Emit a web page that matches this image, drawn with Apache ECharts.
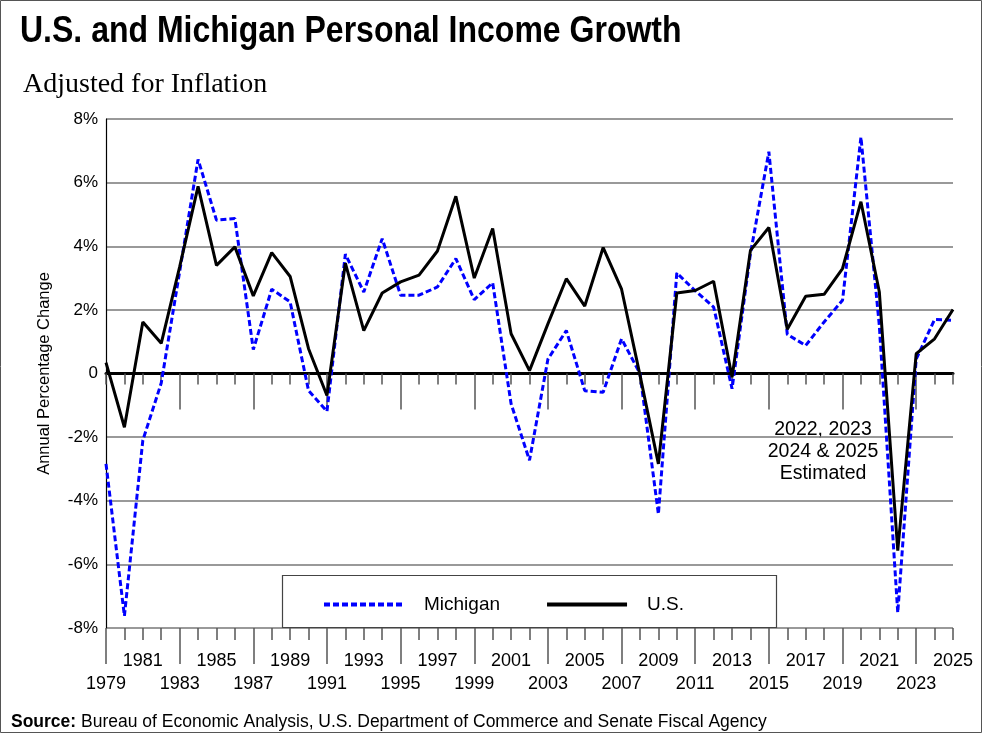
<!DOCTYPE html>
<html>
<head>
<meta charset="utf-8">
<title>U.S. and Michigan Personal Income Growth</title>
<script src="https://cdn.jsdelivr.net/npm/echarts@6/dist/echarts.min.js"></script>
<style>
  html, body { margin: 0; padding: 0; background: #ffffff; }
  #main { width: 983px; height: 734px; }
</style>
</head>
<body>
<div id="main"></div>
<script>
// years on the x axis
const years = [
  "1979", "1980", "1981", "1982", "1983", "1984", "1985", "1986", "1987", "1988",
  "1989", "1990", "1991", "1992", "1993", "1994", "1995", "1996", "1997", "1998",
  "1999", "2000", "2001", "2002", "2003", "2004", "2005", "2006", "2007", "2008",
  "2009", "2010", "2011", "2012", "2013", "2014", "2015", "2016", "2017", "2018",
  "2019", "2020", "2021", "2022", "2023", "2024", "2025"
];

// annual % change, real personal income
const michigan = [
  -2.84, -7.62, -2.1, -0.3, 3.2, 6.73, 4.82, 4.87, 0.75, 2.65,
  2.25, -0.54, -1.19, 3.75, 2.56, 4.24, 2.46, 2.46, 2.72, 3.61,
  2.32, 2.85, -0.95, -2.73, 0.45, 1.35, -0.54, -0.59, 1.09, 0.0,
  -4.42, 3.16, 2.6, 2.09, -0.48, 3.77, 6.97, 1.23, 0.88, 1.62,
  2.3, 7.43, 1.5, -7.52, 0.45, 1.7, 1.67
];
const us = [
  0.34, -1.69, 1.62, 0.95, 3.35, 5.88, 3.4, 3.98, 2.44, 3.8,
  3.05, 0.78, -0.69, 3.47, 1.35, 2.53, 2.88, 3.09, 3.85, 5.57,
  3.0, 4.56, 1.25, 0.09, 1.56, 2.98, 2.12, 3.96, 2.65, -0.05,
  -2.84, 2.53, 2.61, 2.9, -0.12, 3.87, 4.59, 1.39, 2.43, 2.49,
  3.3, 5.4, 2.56, -5.57, 0.62, 1.09, 2.01
];

const yTicks = [-8, -6, -4, -2, 0, 2, 4, 6, 8];
const noteLines = ["2022, 2023", "2024 & 2025", "Estimated"];

const sans = "'Liberation Sans', Arial, sans-serif";

const chart = echarts.init(document.getElementById("main"));

// category x axes: two sit on the zero line, two hang from the bottom
function xAxisBase(extra) {
  return Object.assign({
    type: "category",
    data: years,
    boundaryGap: false,
    position: "bottom",
    axisLine: { show: false },
    axisTick: { show: false },
    axisLabel: { show: false },
    splitLine: { show: false }
  }, extra);
}

const tickStyle = { color: "#555", width: 1.5 };

chart.setOption({
  animation: false,
  backgroundColor: "#ffffff",
  title: [
    {
      text: "Adjusted for Inflation",
      left: 18,
      top: 66,
      textStyle: { fontFamily: "'Liberation Serif', 'DejaVu Serif', serif", fontWeight: "normal", fontSize: 28, color: "#000" }
    },
    {
      text: "{b|Source:} Bureau of Economic Analysis, U.S. Department of Commerce and Senate Fiscal Agency",
      left: 6,
      top: 708,
      textStyle: {
        fontFamily: sans, fontWeight: "normal", fontSize: 17.5, color: "#000",
        rich: { b: { fontFamily: sans, fontWeight: "bold", fontSize: 17.5, color: "#000" } }
      }
    }
  ],
  grid: { left: 106, right: 30, top: 119, bottom: 106 },
  legend: {
    data: ["Michigan", "U.S."],
    left: 317,
    top: 590,
    z: 10,
    itemWidth: 80,
    itemHeight: 14,
    itemGap: 45,
    itemStyle: { opacity: 0 },
    lineStyle: { width: 4 },
    textStyle: { fontFamily: sans, fontSize: 19, color: "#000", padding: [0, 0, 0, 15] }
  },
  xAxis: [
    // zero line with yearly ticks
    xAxisBase({
      axisLine: { show: true, onZero: true, onZeroAxisIndex: 0, lineStyle: { color: "#000", width: 3 } },
      axisTick: { show: true, interval: 0, length: 11, lineStyle: tickStyle }
    }),
    // long ticks on the zero line every 4 years
    xAxisBase({
      axisLine: { show: false, onZero: true, onZeroAxisIndex: 0 },
      axisTick: { show: true, length: 36, interval: function (i) { return i % 4 === 0 && i > 0; }, lineStyle: tickStyle }
    }),
    // bottom: yearly ticks + upper row of labels
    xAxisBase({
      axisLine: { show: false, onZero: false },
      axisTick: { show: true, interval: 0, length: 12, lineStyle: tickStyle },
      axisLabel: {
        show: true, margin: 24, fontFamily: sans, fontSize: 18, color: "#000",
        interval: function (i) { return i % 4 === 2; }
      }
    }),
    // bottom: long ticks + lower row of labels
    xAxisBase({
      axisLine: { show: false, onZero: false },
      axisTick: { show: true, length: 36, interval: function (i) { return i % 4 === 0; }, lineStyle: tickStyle },
      axisLabel: {
        show: true, margin: 47, fontFamily: sans, fontSize: 18, color: "#000",
        interval: function (i) { return i % 4 === 0; }
      }
    })
  ],
  yAxis: {
    type: "value",
    min: yTicks[0],
    max: yTicks[yTicks.length - 1],
    interval: 2,
    name: "Annual Percentage Change",
    nameLocation: "middle",
    nameRotate: 90,
    nameGap: 53,
    nameTextStyle: { fontFamily: sans, fontSize: 16.5, color: "#000" },
    axisLine: { show: true, lineStyle: { color: "#000", width: 1.2 } },
    axisTick: { show: false },
    axisLabel: {
      margin: 8, fontFamily: sans, fontSize: 17, color: "#000",
      formatter: function (v) { return v === 0 ? "0" : v + "%"; }
    },
    splitLine: { show: true, lineStyle: { color: "#777", width: 1.5 } }
  },
  series: [
    {
      name: "Michigan",
      type: "line",
      data: michigan,
      symbol: "none",
      color: "#0000ff",
      lineStyle: { color: "#0000ff", width: 3, type: [6, 3] },
      z: 3
    },
    {
      name: "U.S.",
      type: "line",
      data: us,
      symbol: "none",
      color: "#000000",
      lineStyle: { color: "#000000", width: 3 },
      z: 4
    }
  ],
  graphic: [
    // outer frame
    {
      type: "rect",
      shape: { x: 0.5, y: 0.5, width: 981, height: 732 },
      style: { fill: null, stroke: "#555", lineWidth: 1 },
      silent: true
    },
    // main title, squeezed to look like a condensed face
    {
      type: "text",
      x: 20,
      y: 13,
      scaleX: 0.865,
      style: {
        text: "U.S. and Michigan Personal Income Growth",
        fontFamily: sans,
        fontWeight: "bold",
        fontSize: 37,
        fill: "#000",
        verticalAlign: "top"
      },
      silent: true
    },
    // legend box
    {
      type: "rect",
      shape: { x: 282.5, y: 575.5, width: 494, height: 52 },
      style: { fill: "#ffffff", stroke: "#444", lineWidth: 1.2 },
      z: 5,
      silent: true
    },
    {
      type: "text",
      x: 823,
      y: 419,
      style: {
        text: noteLines.join("\n"),
        fontFamily: sans,
        fontSize: 19.5,
        lineHeight: 22,
        fill: "#000",
        align: "center"
      },
      silent: true
    }
  ]
});
</script>
</body>
</html>
